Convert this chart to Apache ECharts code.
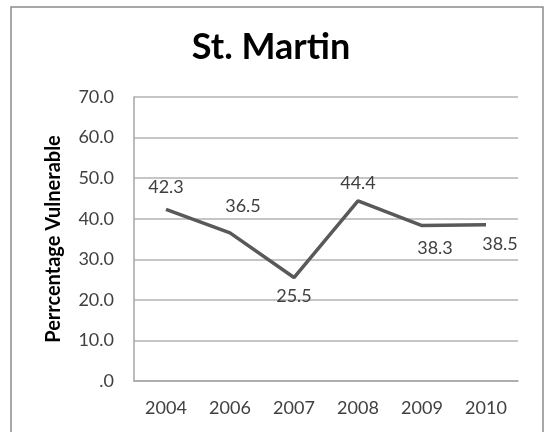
<!DOCTYPE html>
<html><head><meta charset="utf-8">
<script src="https://cdn.jsdelivr.net/npm/echarts@6/dist/echarts.min.js"></script>
<style>html,body{margin:0;padding:0;background:#fff}#c{width:546px;height:432px}</style>
</head><body><div id="c"></div>
<script>
const categories = ['2004','2006','2007','2008','2009','2010'];
const values = [42.3, 36.5, 25.5, 44.4, 38.3, 38.5];
const yTicks = [0,10,20,30,40,50,60,70];
const title = 'St. Martin';
const yName = 'Perrcentage Vulnerable';

const labelPos = [
  {position:'top', offset:[0,-8]},
  {position:'top', offset:[13,-13]},
  {position:'bottom', offset:[0,5]},
  {position:'top', offset:[0,-4]},
  {position:'bottom', offset:[13,9]},
  {position:'bottom', offset:[14,5]}
];

const chart = echarts.init(document.getElementById('c'));
chart.setOption({
  animation:false,
  backgroundColor:'#fff',
  graphic:[{type:'rect', shape:{x:11,y:7,width:532,height:440}, style:{fill:'none', stroke:'#8c8c8c', lineWidth:1.5}, silent:true}],
  title:{text:title, left:266, top:24, textAlign:'center', textStyle:{fontFamily:'Lato', fontWeight:'bold', fontSize:36, color:'#000'}},
  grid:{left:134, right:28, top:97, bottom:51, containLabel:false},
  xAxis:{type:'category', data:categories, boundaryGap:true,
    axisLine:{lineStyle:{color:'#a6a6a6', width:1.5}}, axisTick:{show:false},
    axisLabel:{color:'#404040', fontFamily:'Lato', fontSize:18, margin:18}},
  yAxis:{type:'value', min:yTicks[0], max:yTicks[yTicks.length-1], interval:10,
    name:yName, nameLocation:'middle', nameGap:70, nameRotate:90,
    nameTextStyle:{fontFamily:'Lato', fontWeight:'bold', fontSize:20, color:'#000'},
    axisLine:{show:true, lineStyle:{color:'#a6a6a6', width:1.5}}, axisTick:{show:false},
    splitLine:{lineStyle:{color:'#b3b3b3', width:1.5}},
    axisLabel:{color:'#404040', fontFamily:'Lato', fontSize:18, margin:20,
      formatter:v => v===0 ? '.0' : v.toFixed(1)}},
  series:[{type:'line', data:values.map((v,i)=>({value:v, label:labelPos[i]})),
    symbol:'circle', symbolSize:0, showSymbol:true,
    lineStyle:{color:'#595959', width:3.5}, itemStyle:{color:'#595959'},
    label:{show:true, color:'#404040', fontFamily:'Lato', fontSize:18, formatter:p=>p.value.toFixed(1)}}]
});
</script></body></html>
